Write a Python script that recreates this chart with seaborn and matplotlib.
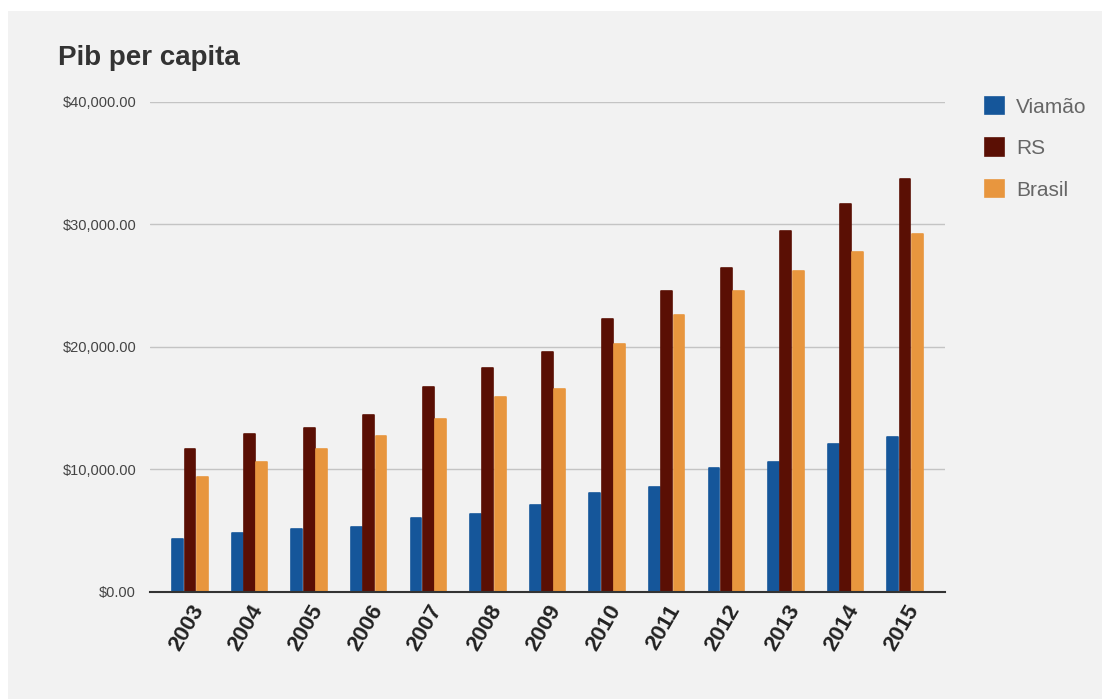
import pandas as pd
import numpy as np
import matplotlib
matplotlib.use("Agg")
import matplotlib.pyplot as plt
from matplotlib.patches import Rectangle
from matplotlib.ticker import FuncFormatter
import seaborn as sns


# ================================
# DATA
# ================================

years = ["2003", "2004", "2005", "2006", "2007", "2008", "2009",
         "2010", "2011", "2012", "2013", "2014", "2015"]

viamao = [4330, 4820, 5100, 5260, 6030, 6340, 7080,
          8050, 8520, 10110, 10600, 12090, 12660]

rs = [11650, 12870, 13360, 14400, 16670, 18300, 19530,
      22280, 24530, 26460, 29420, 31680, 33650]

brasil = [9370, 10600, 11650, 12750, 14100, 15920, 16570,
          20190, 22550, 24530, 26180, 27770, 29200]

series_names = ["Viamão", "RS", "Brasil"]
colors = ["#15569a", "#5a0f04", "#e8963e"]


df = pd.DataFrame({
    "ano": years * 3,
    "valor": viamao + rs + brasil,
    "serie": [series_names[0]] * len(years)
             + [series_names[1]] * len(years)
             + [series_names[2]] * len(years),
})


# ================================
# FIGURE
# ================================

sns.set_theme(style="white")
plt.rcParams["font.family"] = ["Liberation Sans", "DejaVu Sans"]

BG = "#f2f2f2"

fig = plt.figure(figsize=(11.02, 6.99), dpi=100, facecolor="white")

# gray card with small white border at left / top
fig.patches.append(
    Rectangle((8 / 1102, 0), 1 - 8 / 1102, 1 - 11 / 699,
              transform=fig.transFigure, facecolor=BG,
              edgecolor="none", zorder=-10)
)

ax = fig.add_axes([150 / 1102, 107.3 / 699, 795 / 1102, 490 / 699])
ax.set_facecolor(BG)
ax.patch.set_alpha(0)

sns.barplot(
    data=df,
    x="ano",
    y="valor",
    hue="serie",
    hue_order=series_names,
    palette=colors,
    width=0.62,
    gap=0.12,
    saturation=1,
    errorbar=None,
    ax=ax,
    zorder=3,
)

# slightly rounded tops
for p in ax.patches:
    p.set_edgecolor(p.get_facecolor())
    p.set_linewidth(1.2)
    p.set_joinstyle("round")

ax.set_ylim(0, 40000)
ax.set_xlim(-0.67, 12.67)
ax.set_yticks([0, 10000, 20000, 30000, 40000])
ax.yaxis.set_major_formatter(FuncFormatter(lambda v, _: f"${v:,.2f}"))

ax.grid(axis="y", color="#c4c4c4", linewidth=1, zorder=0)
ax.grid(axis="x", visible=False)

for s in ["top", "right", "left"]:
    ax.spines[s].set_visible(False)
ax.spines["bottom"].set_color("#333333")
ax.spines["bottom"].set_linewidth(1.5)
ax.spines["bottom"].set_zorder(4)

ax.tick_params(axis="y", length=0, pad=10, labelsize=10.5, labelcolor="#444444")
ax.tick_params(axis="x", length=0, pad=7, labelsize=16, labelcolor="#222222")

for lbl in ax.get_xticklabels():
    lbl.set_rotation(60)
    lbl.set_ha("right")
    lbl.set_rotation_mode("anchor")
    lbl.set_fontweight("bold")

ax.set_xlabel("")
ax.set_ylabel("")


# ================================
# TITLE + LEGEND
# ================================

fig.text(58 / 1102, 1 - 58 / 699, "Pib per capita",
         fontsize=20, fontweight="bold", color="#333333",
         ha="left", va="center")

handles, labels = ax.get_legend_handles_labels()
ax.get_legend().remove()

leg = fig.legend(
    handles, labels,
    loc="upper left",
    bbox_to_anchor=(966 / 1102, 1 - 78 / 699),
    frameon=False,
    fontsize=15,
    handlelength=0.9,
    handleheight=0.9,
    handletextpad=0.6,
    labelspacing=1.05,
    labelcolor="#666666",
)


plt.savefig("out.png", dpi=100, facecolor=fig.get_facecolor())
plt.close()
